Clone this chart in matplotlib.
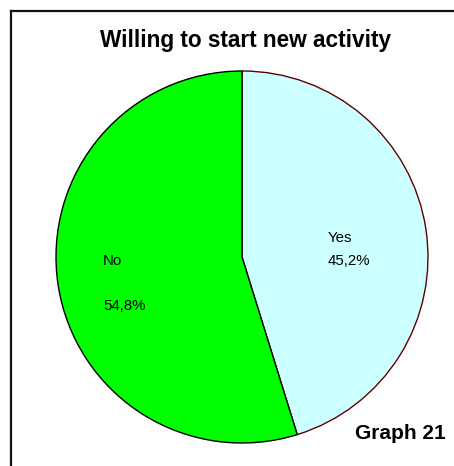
import matplotlib
matplotlib.use("Agg")
import matplotlib.pyplot as plt
from matplotlib.lines import Line2D

plt.rcParams['font.family'] = ['Liberation Sans', 'DejaVu Sans']

# 응답 데이터
labels = ['Yes', 'No']
values = [45.2, 54.8]
colors = ['#CCFFFF', '#00FF00']
edges = ['#600000', '#000000']

W, H = 454, 466
fig = plt.figure(figsize=(W / 100, H / 100), dpi=100)

# 바깥 테두리 (오른쪽/아래는 잘려 있음)
fig.add_artist(Line2D([11 / W, 11 / W], [1 - 11 / H, 0], color='#111111', lw=1.6))
fig.add_artist(Line2D([11 / W, 1], [1 - 11 / H, 1 - 11 / H], color='#111111', lw=1.6))

# 파이 영역
cx, cy, r = 242, 257, 186
ax = fig.add_axes([(cx - r) / W, (H - cy - r) / H, 2 * r / W, 2 * r / H])
wedges, _ = ax.pie(values, colors=colors, startangle=90, counterclock=False,
                   radius=1.0, wedgeprops=dict(linewidth=1.0))
for w, ec in zip(wedges, edges):
    w.set_edgecolor(ec)
    w.set_clip_on(False)
ax.set_xlim(-1, 1)
ax.set_ylim(-1, 1)
ax.set_aspect('equal')
ax.axis('off')

# 라벨 (이름 + 비율)
def pct(v):
    return f"{v:.1f}".replace('.', ',') + '%'

label_pos = {'Yes': [(0.463, 0.102), (0.463, -0.022)],
             'No': [(-0.747, -0.022), (-0.747, -0.264)]}
for lab, v in zip(labels, values):
    (x1, y1), (x2, y2) = label_pos[lab]
    ax.text(x1, y1, lab, fontsize=10.8, ha='left', va='center')
    ax.text(x2, y2, pct(v), fontsize=10.8, ha='left', va='center')

fig.text(246 / W, 1 - 47 / H, 'Willing to start new activity', fontsize=16.3,
         fontweight='bold', ha='center', va='baseline')
fig.text(446 / W, 1 - 439 / H, 'Graph 21', fontsize=15,
         fontweight='bold', ha='right', va='baseline')

fig.savefig('out.png', dpi=100)
